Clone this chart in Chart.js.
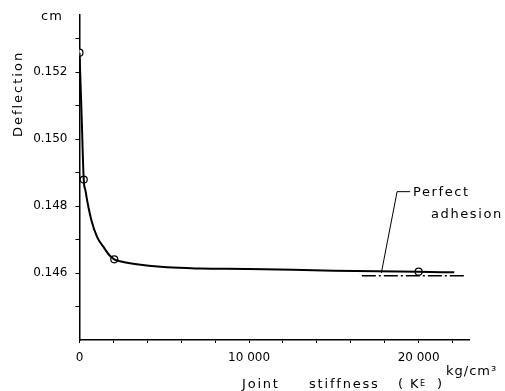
<!DOCTYPE html>
<html>
<head>
<meta charset="utf-8">
<script src="https://cdn.jsdelivr.net/npm/chart.js@4/dist/chart.umd.min.js"></script>
<style>
  html, body { margin: 0; padding: 0; background: #fff; }
  #wrap { width: 505px; height: 391px; position: relative; }
</style>
</head>
<body>
<div id="wrap"><canvas id="lineChart" width="505" height="391"></canvas></div>
<script>
// values
var curveK = [0, 125, 250, 353, 488, 706, 1041, 1412, 1765, 2050, 2390, 3156, 5162, 7109, 10000, 15000, 20000, 22100];
var curveDefl = [0.15258, 0.1507, 0.14879, 0.14846, 0.14807, 0.14757, 0.14707, 0.14678, 0.14653, 0.14641, 0.14635, 0.146275, 0.14617, 0.146135, 0.14612, 0.14607, 0.14604, 0.14602];
var markK = [0, 250, 2050, 20000];
var markDefl = [0.15258, 0.14879, 0.14641, 0.14604];
var adhesionK = [16650, 22700];
var adhesionDefl = [0.14592, 0.14592];
var leaderK = [17800, 18730, 19500];
var leaderDefl = [0.14600, 0.14843, 0.14843];

var xTicks = [0, 2000, 4000, 6000, 8000, 10000, 12000, 14000, 16000, 18000, 20000, 22000];
var xTickLabels = {0: '0', 10000: '10 000', 20000: '20 000'};
var yTicks = [0.145, 0.146, 0.147, 0.148, 0.149, 0.150, 0.151, 0.152, 0.153];
var yTickLabels = {146: '0.146', 148: '0.148', 150: '0.150', 152: '0.152'};

function pts(xs, ys) {
    var out = [];
    for (var i = 0; i < xs.length; i++) out.push({x: xs[i], y: ys[i]});
    return out;
}

var textPlugin = {
    id: 'texts',
    afterDraw: function (chart) {
        var ctx = chart.ctx;
        ctx.save();
        ctx.fillStyle = '#000';
        ctx.textBaseline = 'alphabetic';
        ctx.textAlign = 'left';
        ctx.font = '13px "DejaVu Sans"';
        ctx.letterSpacing = '1px';
        ctx.fillText('cm', 41, 20);
        ctx.fillText('kg/cm\u00b3', 446, 375);

        ctx.letterSpacing = '1.6px';
        ctx.fillText('Perfect', 413, 196);
        ctx.fillText('adhesion', 431, 218);

        // y title
        ctx.save();
        ctx.translate(22, 94);
        ctx.rotate(-Math.PI / 2);
        ctx.textAlign = 'center';
        ctx.letterSpacing = '2px';
        ctx.fillText('Deflection', 0, 0);
        ctx.restore();

        // x title with small E
        ctx.letterSpacing = '1.8px';
        ctx.fillText('Joint', 242, 388);
        ctx.fillText('stiffness', 309, 388);
        ctx.fillText('(', 398, 388);
        ctx.fillText('K', 410, 388);
        ctx.font = '8px "DejaVu Sans"';
        ctx.letterSpacing = '0px';
        ctx.fillText('E', 420, 386);
        ctx.font = '13px "DejaVu Sans"';
        ctx.fillText(')', 437, 388);
        ctx.restore();
    }
};

var chart = new Chart(document.querySelector('#lineChart'), {
    type: 'scatter',
    data: {
        datasets: [{
            data: pts(curveK, curveDefl),
            showLine: true,
            borderColor: '#000',
            borderWidth: 2,
            pointRadius: 0,
            cubicInterpolationMode: 'monotone'
        }, {
            data: pts(adhesionK, adhesionDefl),
            showLine: true,
            borderColor: '#000',
            borderWidth: 1.5,
            borderDash: [14, 3, 2, 3],
            pointRadius: 0
        }, {
            data: pts(leaderK, leaderDefl),
            showLine: true,
            borderColor: '#000',
            borderWidth: 1,
            pointRadius: 0,
            tension: 0
        }, {
            data: pts(markK, markDefl),
            showLine: false,
            pointRadius: 3.5,
            pointBackgroundColor: '#fff',
            pointBorderColor: '#000',
            pointBorderWidth: 1.2
        }, {
            data: pts(markK, markDefl),
            showLine: false,
            pointRadius: 0.8,
            pointBackgroundColor: '#000',
            pointBorderWidth: 0
        }]
    },
    options: {
        responsive: false,
        animation: false,
        layout: { padding: { left: 0, top: 13, right: 35.5, bottom: 0 } },
        plugins: { legend: { display: false }, tooltip: { enabled: false } },
        scales: {
            x: {
                type: 'linear',
                min: 0,
                max: 23000,
                afterFit: function (scale) { scale.height = 51; },
                afterBuildTicks: function (scale) {
                    scale.ticks = xTicks.map(function (v) { return {value: v}; });
                },
                ticks: {
                    autoSkip: false,
                    maxRotation: 0,
                    padding: 8,
                    color: '#000',
                    font: { family: 'DejaVu Sans', size: 12 },
                    callback: function (v) { return xTickLabels[v] || ''; }
                },
                grid: { drawOnChartArea: false, color: '#000', tickLength: 3, lineWidth: 1 },
                border: { color: '#000', width: 1.5 }
            },
            y: {
                type: 'linear',
                min: 0.144,
                max: 0.1537,
                afterFit: function (scale) { scale.width = 79.5; },
                afterBuildTicks: function (scale) {
                    scale.ticks = yTicks.map(function (v) { return {value: v}; });
                },
                ticks: {
                    autoSkip: false,
                    padding: 8,
                    color: '#000',
                    font: { family: 'DejaVu Sans', size: 12 },
                    callback: function (v) { return yTickLabels[Math.round(v * 1000)] || ''; }
                },
                grid: { drawOnChartArea: false, color: '#000', tickLength: 4, lineWidth: 1 },
                border: { color: '#000', width: 1.5 }
            }
        }
    },
    plugins: [textPlugin]
});
</script>
</body>
</html>
